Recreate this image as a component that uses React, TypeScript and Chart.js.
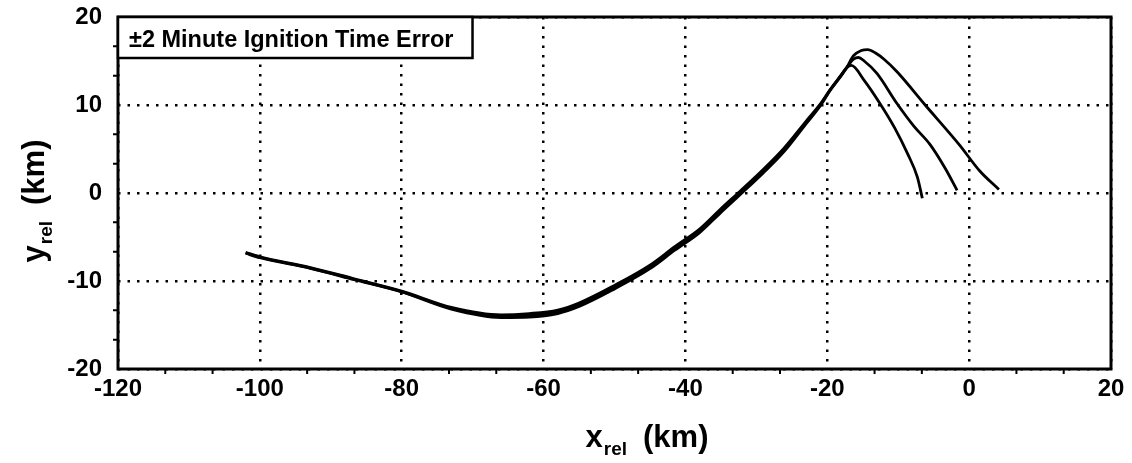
import React, { useEffect, useRef } from "react";
import { Chart, registerables } from "chart.js";

Chart.register(...registerables);

const FONT = "'Liberation Sans', Arial, sans-serif";

// Shared early trajectory (x in km)
const sharedX = [-102, -100, -93, -86.7, -80, -73, -66, -62, -58, -55, -50, -45, -41.5, -38, -35, -32.3, -29, -26.1, -23, -21.0, -19.6, -18.2, -17.3];
// Three slightly different versions of the shared path (ignition -2, 0, +2 min)
const innerSharedY = [-6.75, -7.25, -8.45, -9.75, -11.15, -13.0, -13.85, -13.7, -13.3, -12.5, -10.5, -8.2, -6.1, -4.1, -1.8, 0.2, 2.7, 5.1, 8.15, 10.1, 11.75, 13.25, 14.2];
const middleSharedY = [-6.8, -7.3, -8.5, -9.8, -11.2, -13.1, -14.0, -13.9, -13.5, -12.7, -10.7, -8.4, -6.3, -4.3, -2.0, 0.0, 2.5, 4.9, 8.0, 10.0, 11.7, 13.2, 14.2];
const outerSharedY = [-6.85, -7.35, -8.55, -9.85, -11.25, -13.2, -14.15, -14.1, -13.7, -12.9, -10.9, -8.6, -6.5, -4.5, -2.2, -0.2, 2.3, 4.7, 7.85, 9.9, 11.65, 13.15, 14.2];

// Tails after the peak
const innerTailX = [-16.6, -14.8, -12.6, -10.5, -8.7, -7.3, -6.6];
const innerTailY = [14.5, 12.8, 10.2, 7.4, 4.5, 1.8, -0.6];
const middleTailX = [-16.3, -15.6, -14.8, -13.0, -10.2, -7.8, -5.5, -3.3, -1.7];
const middleTailY = [15.2, 15.4, 15.0, 13.6, 10.2, 7.6, 5.5, 2.7, 0.3];
const outerTailX = [-16.3, -15.2, -14.3, -13.2, -12.0, -10.2, -6.2, -1.4, 1.5, 4.2];
const outerTailY = [15.6, 16.2, 16.3, 15.9, 15.2, 13.8, 10.0, 5.5, 2.5, 0.4];

const X_MIN = -120, X_MAX = 20, X_STEP = 20;
const Y_MIN = -20, Y_MAX = 20, Y_STEP = 10;
const X_MINOR_STEP = 20 / 3;
const Y_MINOR_STEP = 10 / 3;

const BOX_TEXT = "\u00b12 Minute Ignition Time Error";

function pts(xs: number[], ys: number[]) {
  return xs.map((x, i) => ({ x, y: ys[i] }));
}

function drawSubTitle(ctx: any, main: string, sub: string, unit: string, cx: number, baseY: number) {
  const big = `bold 31px ${FONT}`;
  const small = `bold 19px ${FONT}`;
  ctx.font = big;
  const w1 = ctx.measureText(main).width;
  const w3 = ctx.measureText(unit).width;
  ctx.font = small;
  const w2 = ctx.measureText(sub).width;
  const gap = 16;
  const total = w1 + 1 + w2 + gap + w3;
  const x = cx - total / 2;
  ctx.font = big;
  ctx.fillText(main, x, baseY);
  ctx.font = small;
  ctx.fillText(sub, x + w1 + 1, baseY + 8);
  ctx.font = big;
  ctx.fillText(unit, x + w1 + 1 + w2 + gap, baseY);
}

const decorPlugin = {
  id: "decor",
  afterDraw(chart: any) {
    const { ctx, chartArea: a, scales } = chart;
    const xs = scales.x, ys = scales.y;
    ctx.save();
    // frame
    ctx.strokeStyle = "#000";
    ctx.lineWidth = 3;
    ctx.strokeRect(a.left, a.top, a.right - a.left, a.bottom - a.top);
    // minor ticks
    ctx.lineWidth = 2;
    ctx.beginPath();
    for (let k = 1; X_MIN + k * X_MINOR_STEP < X_MAX - 0.01; k++) {
      if (k % 3 === 0) continue;
      const px = xs.getPixelForValue(X_MIN + k * X_MINOR_STEP);
      ctx.moveTo(px, a.bottom);
      ctx.lineTo(px, a.bottom + 5);
    }
    for (let k = 1; Y_MIN + k * Y_MINOR_STEP < Y_MAX - 0.01; k++) {
      if (k % 3 === 0) continue;
      const py = ys.getPixelForValue(Y_MIN + k * Y_MINOR_STEP);
      ctx.moveTo(a.left, py);
      ctx.lineTo(a.left - 5, py);
    }
    ctx.stroke();
    // legend-like box
    ctx.font = `bold 23.5px ${FONT}`;
    const tw = ctx.measureText(BOX_TEXT).width;
    const bx = a.left, by = a.top, bw = tw + 30, bh = 41;
    ctx.fillStyle = "#fff";
    ctx.fillRect(bx, by, bw, bh);
    ctx.lineWidth = 2.5;
    ctx.strokeRect(bx, by, bw, bh);
    ctx.fillStyle = "#000";
    ctx.textBaseline = "alphabetic";
    ctx.textAlign = "left";
    ctx.fillText(BOX_TEXT, bx + 11, by + 30);
    // x title
    drawSubTitle(ctx, "x", "rel", "(km)", 647, 447);
    // y title (rotated)
    ctx.translate(44, 201);
    ctx.rotate(-Math.PI / 2);
    drawSubTitle(ctx, "y", "rel", "(km)", 0, 0);
    ctx.restore();
  },
};

export default function App() {
  const ref = useRef<HTMLCanvasElement>(null);
  useEffect(() => {
    document.body.style.margin = "0";
    const lineDs = (data: any[]) => ({
      data,
      borderColor: "#000",
      borderWidth: 2.8,
      pointRadius: 0,
      fill: false,
      cubicInterpolationMode: "monotone" as const,
    });
    const chart = new Chart(ref.current!, {
      type: "line",
      data: {
        datasets: [
          lineDs(pts(sharedX.concat(innerTailX), innerSharedY.concat(innerTailY))),
          lineDs(pts(sharedX.concat(middleTailX), middleSharedY.concat(middleTailY))),
          lineDs(pts(sharedX.concat(outerTailX), outerSharedY.concat(outerTailY))),
        ],
      },
      options: {
        animation: false,
        responsive: false,
        parsing: false as any,
        layout: { padding: { top: 17, right: 21, left: 0, bottom: 0 } },
        plugins: { legend: { display: false }, tooltip: { enabled: false }, title: { display: false } },
        scales: {
          x: {
            type: "linear",
            min: X_MIN,
            max: X_MAX,
            afterFit: (s: any) => { s.height = 94; s.paddingLeft = 0; s.paddingRight = 0; },
            ticks: { stepSize: X_STEP, color: "#000", padding: 6, font: { family: FONT, size: 24, weight: "bold" } },
            grid: { color: "#000", lineWidth: 2.5, drawTicks: false },
            border: { display: false, dash: [2.5, 7] },
          },
          y: {
            type: "linear",
            min: Y_MIN,
            max: Y_MAX,
            afterFit: (s: any) => { s.width = 118; s.paddingTop = 0; s.paddingBottom = 0; },
            ticks: { stepSize: Y_STEP, color: "#000", padding: 16, font: { family: FONT, size: 24, weight: "bold" } },
            grid: { color: "#000", lineWidth: 2.5, drawTicks: false },
            border: { display: false, dash: [2.5, 7] },
          },
        },
      },
      plugins: [decorPlugin],
    });
    return () => chart.destroy();
  }, []);
  return (
    <div style={{ width: 1132, height: 463 }}>
      <canvas ref={ref} width={1132} height={463} style={{ display: "block" }} />
    </div>
  );
}
